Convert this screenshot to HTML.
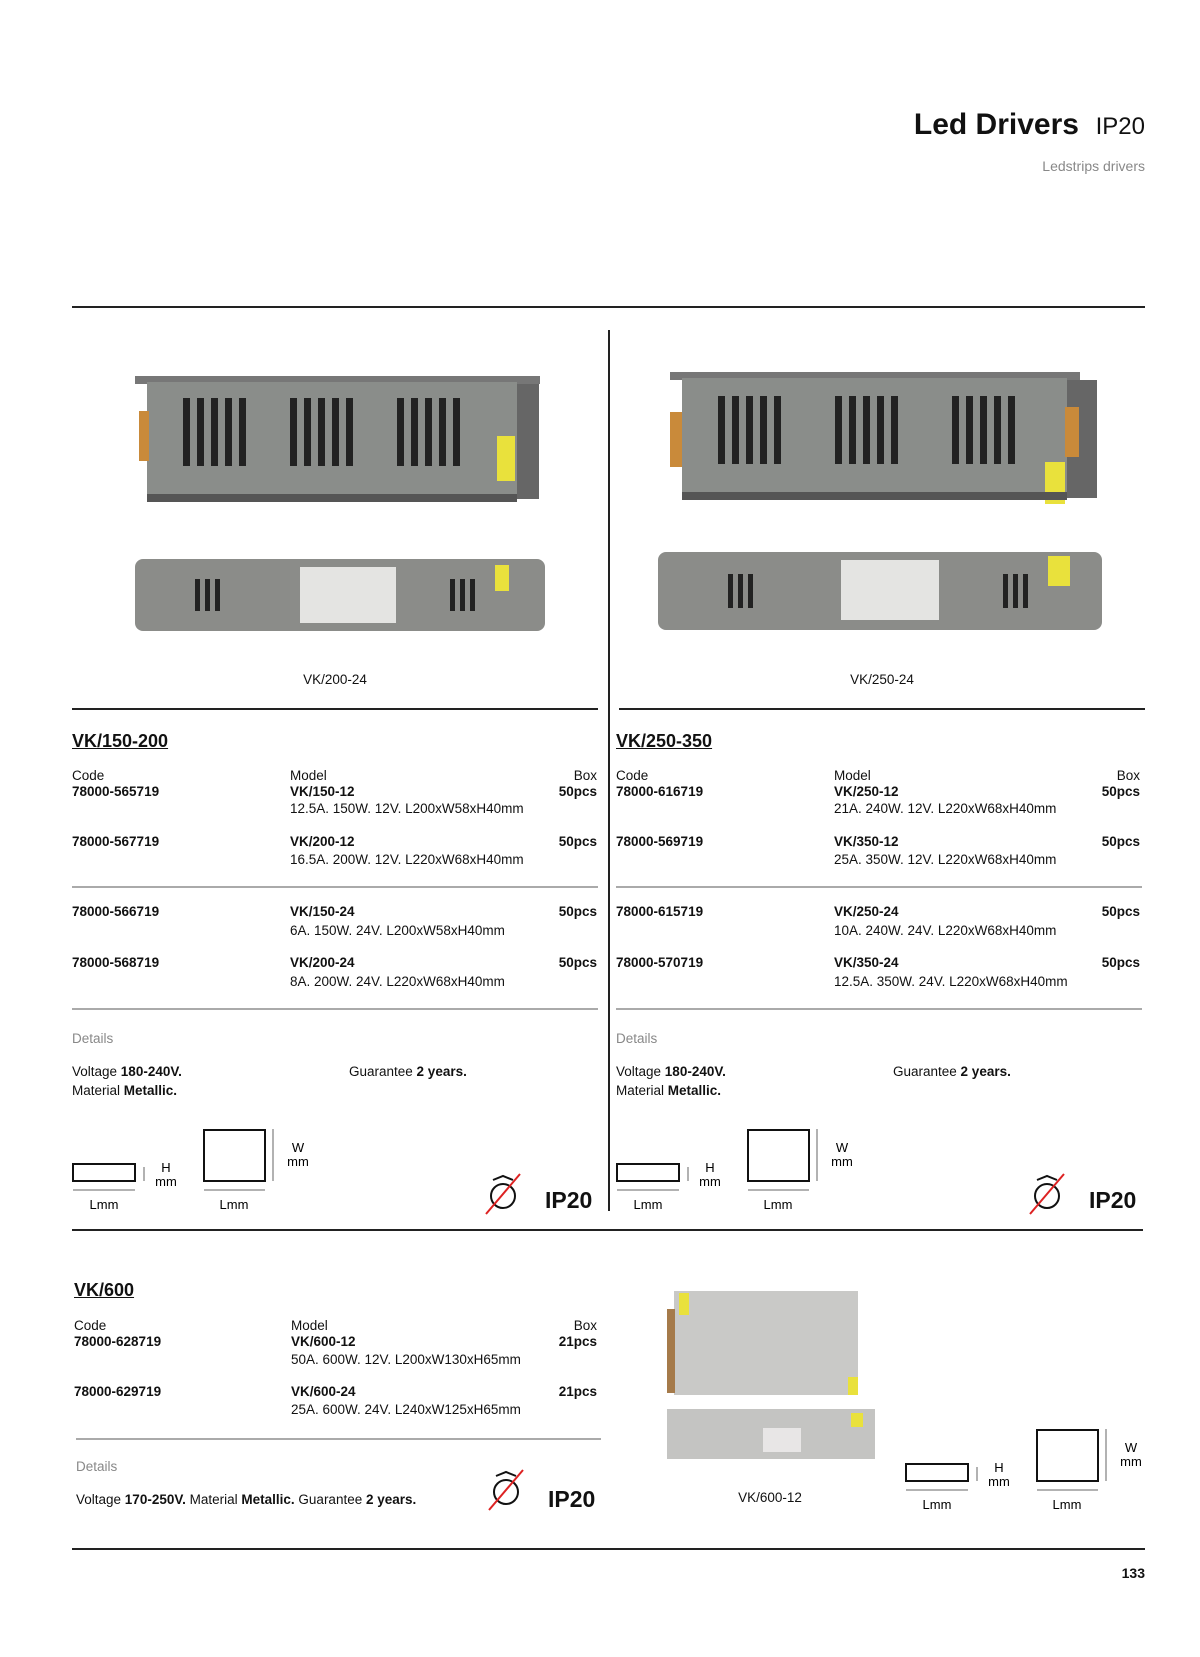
<!DOCTYPE html>
<html><head><meta charset="utf-8">
<style>
body{margin:0;background:#fff;}
#p{position:relative;width:1200px;height:1657px;overflow:hidden;font-family:"Liberation Sans",sans-serif;color:#111;}
.t{position:absolute;white-space:nowrap;font-size:13.5px;line-height:16px;}
.b{font-weight:bold;}
.r{text-align:right;}
.g{color:#888;}
.hl{position:absolute;height:2px;background:#222;}
.gl{position:absolute;height:2px;background:#aaa;}
.h{position:absolute;font-size:18px;font-weight:bold;text-decoration:underline;line-height:20px;}
.ip{position:absolute;font-size:23px;font-weight:bold;line-height:24px;}
svg{position:absolute;}
</style></head><body><div id="p">

<div class="t" style="right:55px;top:108px;font-size:30px;line-height:34px;"><b>Led Drivers</b>&nbsp; <span style="font-size:24px">IP20</span></div>
<div class="t g" style="right:55px;top:158px;font-size:14px;">Ledstrips drivers</div>
<div class="hl" style="left:72px;top:306px;width:1073px;"></div>
<div style="position:absolute;left:608px;top:330px;width:2px;height:881px;background:#222"></div>

<!-- left driver top -->
<svg style="left:135px;top:376px" width="410" height="130" viewBox="0 0 410 130">
<rect x="0" y="0" width="405" height="8" fill="#777"/>
<rect x="12" y="6" width="370" height="118" fill="#8a8d8a"/>
<rect x="382" y="8" width="22" height="115" fill="#666"/>
<rect x="4" y="35" width="10" height="50" fill="#c98a3a"/>
<rect x="362" y="60" width="18" height="45" fill="#e9e13c"/>
<g fill="#222"><rect x="48" y="22" width="7" height="68"/><rect x="62" y="22" width="7" height="68"/><rect x="76" y="22" width="7" height="68"/><rect x="90" y="22" width="7" height="68"/><rect x="104" y="22" width="7" height="68"/>
<rect x="155" y="22" width="7" height="68"/><rect x="169" y="22" width="7" height="68"/><rect x="183" y="22" width="7" height="68"/><rect x="197" y="22" width="7" height="68"/><rect x="211" y="22" width="7" height="68"/>
<rect x="262" y="22" width="7" height="68"/><rect x="276" y="22" width="7" height="68"/><rect x="290" y="22" width="7" height="68"/><rect x="304" y="22" width="7" height="68"/><rect x="318" y="22" width="7" height="68"/></g>
<rect x="12" y="118" width="370" height="8" fill="#555"/>
</svg>
<svg style="left:135px;top:559px" width="412" height="75" viewBox="0 0 412 75">
<rect x="0" y="0" width="410" height="72" rx="8" fill="#8b8c89"/>
<rect x="165" y="8" width="96" height="56" fill="#e4e4e2"/>
<g fill="#222"><rect x="60" y="20" width="5" height="32"/><rect x="70" y="20" width="5" height="32"/><rect x="80" y="20" width="5" height="32"/>
<rect x="315" y="20" width="5" height="32"/><rect x="325" y="20" width="5" height="32"/><rect x="335" y="20" width="5" height="32"/></g>
<rect x="360" y="6" width="14" height="26" fill="#e9e13c"/>
</svg>
<div class="t b" style="left:235px;width:200px;text-align:center;top:672px;font-weight:normal">VK/200-24</div>

<!-- right driver top -->
<svg style="left:670px;top:372px" width="430" height="134" viewBox="0 0 430 134">
<rect x="0" y="0" width="410" height="8" fill="#777"/>
<rect x="12" y="6" width="385" height="120" fill="#8a8d8a"/>
<rect x="397" y="8" width="30" height="118" fill="#666"/>
<rect x="0" y="40" width="12" height="55" fill="#c98a3a"/>
<rect x="395" y="35" width="14" height="50" fill="#c98a3a"/>
<rect x="375" y="90" width="20" height="42" fill="#e9e13c"/>
<g fill="#222"><rect x="48" y="24" width="7" height="68"/><rect x="62" y="24" width="7" height="68"/><rect x="76" y="24" width="7" height="68"/><rect x="90" y="24" width="7" height="68"/><rect x="104" y="24" width="7" height="68"/>
<rect x="165" y="24" width="7" height="68"/><rect x="179" y="24" width="7" height="68"/><rect x="193" y="24" width="7" height="68"/><rect x="207" y="24" width="7" height="68"/><rect x="221" y="24" width="7" height="68"/>
<rect x="282" y="24" width="7" height="68"/><rect x="296" y="24" width="7" height="68"/><rect x="310" y="24" width="7" height="68"/><rect x="324" y="24" width="7" height="68"/><rect x="338" y="24" width="7" height="68"/></g>
<rect x="12" y="120" width="385" height="8" fill="#555"/>
</svg>
<svg style="left:658px;top:552px" width="446" height="80" viewBox="0 0 446 80">
<rect x="0" y="0" width="444" height="78" rx="8" fill="#8b8c89"/>
<rect x="183" y="8" width="98" height="60" fill="#e4e4e2"/>
<g fill="#222"><rect x="70" y="22" width="5" height="34"/><rect x="80" y="22" width="5" height="34"/><rect x="90" y="22" width="5" height="34"/>
<rect x="345" y="22" width="5" height="34"/><rect x="355" y="22" width="5" height="34"/><rect x="365" y="22" width="5" height="34"/></g>
<rect x="390" y="4" width="22" height="30" fill="#e9e13c"/>
</svg>
<div class="t" style="left:782px;width:200px;text-align:center;top:672px">VK/250-24</div>

<div class="hl" style="left:72px;top:708px;width:526px;"></div>
<div class="hl" style="left:619px;top:708px;width:526px;"></div>

<!-- LEFT TABLE -->
<div class="h" style="left:72px;top:731px">VK/150-200</div>
<div class="t" style="left:72px;top:768px">Code</div>
<div class="t" style="left:290px;top:768px">Model</div>
<div class="t r" style="right:603px;top:768px">Box</div>
<div class="t b" style="left:72px;top:784px">78000-565719</div>
<div class="t b" style="left:290px;top:784px">VK/150-12</div>
<div class="t b r" style="right:603px;top:784px">50pcs</div>
<div class="t" style="left:290px;top:801px">12.5A. 150W. 12V. L200xW58xH40mm</div>
<div class="t b" style="left:72px;top:834px">78000-567719</div>
<div class="t b" style="left:290px;top:834px">VK/200-12</div>
<div class="t b r" style="right:603px;top:834px">50pcs</div>
<div class="t" style="left:290px;top:852px">16.5A. 200W. 12V. L220xW68xH40mm</div>
<div class="gl" style="left:72px;top:886px;width:526px;"></div>
<div class="t b" style="left:72px;top:904px">78000-566719</div>
<div class="t b" style="left:290px;top:904px">VK/150-24</div>
<div class="t b r" style="right:603px;top:904px">50pcs</div>
<div class="t" style="left:290px;top:923px">6A. 150W. 24V. L200xW58xH40mm</div>
<div class="t b" style="left:72px;top:955px">78000-568719</div>
<div class="t b" style="left:290px;top:955px">VK/200-24</div>
<div class="t b r" style="right:603px;top:955px">50pcs</div>
<div class="t" style="left:290px;top:974px">8A. 200W. 24V. L220xW68xH40mm</div>
<div class="gl" style="left:72px;top:1008px;width:526px;"></div>
<div class="t g" style="left:72px;top:1031px">Details</div>
<div class="t" style="left:72px;top:1064px">Voltage <b>180-240V.</b></div>
<div class="t" style="left:72px;top:1083px">Material <b>Metallic.</b></div>
<div class="t" style="left:349px;top:1064px">Guarantee <b>2 years.</b></div>

<!-- RIGHT TABLE -->
<div class="h" style="left:616px;top:731px">VK/250-350</div>
<div class="t" style="left:616px;top:768px">Code</div>
<div class="t" style="left:834px;top:768px">Model</div>
<div class="t r" style="right:60px;top:768px">Box</div>
<div class="t b" style="left:616px;top:784px">78000-616719</div>
<div class="t b" style="left:834px;top:784px">VK/250-12</div>
<div class="t b r" style="right:60px;top:784px">50pcs</div>
<div class="t" style="left:834px;top:801px">21A. 240W. 12V. L220xW68xH40mm</div>
<div class="t b" style="left:616px;top:834px">78000-569719</div>
<div class="t b" style="left:834px;top:834px">VK/350-12</div>
<div class="t b r" style="right:60px;top:834px">50pcs</div>
<div class="t" style="left:834px;top:852px">25A. 350W. 12V. L220xW68xH40mm</div>
<div class="gl" style="left:616px;top:886px;width:526px;"></div>
<div class="t b" style="left:616px;top:904px">78000-615719</div>
<div class="t b" style="left:834px;top:904px">VK/250-24</div>
<div class="t b r" style="right:60px;top:904px">50pcs</div>
<div class="t" style="left:834px;top:923px">10A. 240W. 24V. L220xW68xH40mm</div>
<div class="t b" style="left:616px;top:955px">78000-570719</div>
<div class="t b" style="left:834px;top:955px">VK/350-24</div>
<div class="t b r" style="right:60px;top:955px">50pcs</div>
<div class="t" style="left:834px;top:974px">12.5A. 350W. 24V. L220xW68xH40mm</div>
<div class="gl" style="left:616px;top:1008px;width:526px;"></div>
<div class="t g" style="left:616px;top:1031px">Details</div>
<div class="t" style="left:616px;top:1064px">Voltage <b>180-240V.</b></div>
<div class="t" style="left:616px;top:1083px">Material <b>Metallic.</b></div>
<div class="t" style="left:893px;top:1064px">Guarantee <b>2 years.</b></div>

<!-- dimension icons + clock, left -->
<svg style="left:70px;top:1126px" width="560" height="90">
<g fill="none" stroke="#111" stroke-width="2"><rect x="3" y="38" width="62" height="17"/><rect x="134" y="4" width="61" height="51"/></g>
<g stroke="#666" stroke-width="1"><line x1="3" y1="64" x2="65" y2="64"/><line x1="134" y1="64" x2="195" y2="64"/><line x1="74" y1="41" x2="74" y2="55"/><line x1="203" y1="3" x2="203" y2="55"/></g>
<text x="34" y="83" font-family="Liberation Sans" font-size="13" text-anchor="middle">Lmm</text>
<text x="164" y="83" font-family="Liberation Sans" font-size="13" text-anchor="middle">Lmm</text>
<text x="96" y="46" font-family="Liberation Sans" font-size="13" text-anchor="middle">H</text>
<text x="96" y="60" font-family="Liberation Sans" font-size="13" text-anchor="middle">mm</text>
<text x="228" y="26" font-family="Liberation Sans" font-size="13" text-anchor="middle">W</text>
<text x="228" y="40" font-family="Liberation Sans" font-size="13" text-anchor="middle">mm</text>
<circle cx="433" cy="70" r="12" fill="none" stroke="#111" stroke-width="2"/>
<path d="M423 54 L433 50 L443 54" fill="none" stroke="#111" stroke-width="2"/>
<line x1="416" y1="88" x2="450" y2="48" stroke="#d22" stroke-width="2"/>
</svg>
<div class="ip" style="left:545px;top:1188px">IP20</div>

<svg style="left:614px;top:1126px" width="560" height="90">
<g fill="none" stroke="#111" stroke-width="2"><rect x="3" y="38" width="62" height="17"/><rect x="134" y="4" width="61" height="51"/></g>
<g stroke="#666" stroke-width="1"><line x1="3" y1="64" x2="65" y2="64"/><line x1="134" y1="64" x2="195" y2="64"/><line x1="74" y1="41" x2="74" y2="55"/><line x1="203" y1="3" x2="203" y2="55"/></g>
<text x="34" y="83" font-family="Liberation Sans" font-size="13" text-anchor="middle">Lmm</text>
<text x="164" y="83" font-family="Liberation Sans" font-size="13" text-anchor="middle">Lmm</text>
<text x="96" y="46" font-family="Liberation Sans" font-size="13" text-anchor="middle">H</text>
<text x="96" y="60" font-family="Liberation Sans" font-size="13" text-anchor="middle">mm</text>
<text x="228" y="26" font-family="Liberation Sans" font-size="13" text-anchor="middle">W</text>
<text x="228" y="40" font-family="Liberation Sans" font-size="13" text-anchor="middle">mm</text>
<circle cx="433" cy="70" r="12" fill="none" stroke="#111" stroke-width="2"/>
<path d="M423 54 L433 50 L443 54" fill="none" stroke="#111" stroke-width="2"/>
<line x1="416" y1="88" x2="450" y2="48" stroke="#d22" stroke-width="2"/>
</svg>
<div class="ip" style="left:1089px;top:1188px">IP20</div>

<div class="hl" style="left:72px;top:1229px;width:1071px;"></div>

<!-- VK/600 -->
<div class="h" style="left:74px;top:1280px">VK/600</div>
<div class="t" style="left:74px;top:1318px">Code</div>
<div class="t" style="left:291px;top:1318px">Model</div>
<div class="t r" style="right:603px;top:1318px">Box</div>
<div class="t b" style="left:74px;top:1334px">78000-628719</div>
<div class="t b" style="left:291px;top:1334px">VK/600-12</div>
<div class="t b r" style="right:603px;top:1334px">21pcs</div>
<div class="t" style="left:291px;top:1352px">50A. 600W. 12V. L200xW130xH65mm</div>
<div class="t b" style="left:74px;top:1384px">78000-629719</div>
<div class="t b" style="left:291px;top:1384px">VK/600-24</div>
<div class="t b r" style="right:603px;top:1384px">21pcs</div>
<div class="t" style="left:291px;top:1402px">25A. 600W. 24V. L240xW125xH65mm</div>
<div class="gl" style="left:76px;top:1438px;width:525px;"></div>
<div class="t g" style="left:76px;top:1459px">Details</div>
<div class="t" style="left:76px;top:1492px">Voltage <b>170-250V.</b> Material <b>Metallic.</b> Guarantee <b>2 years.</b></div>
<svg style="left:480px;top:1465px" width="60" height="50">
<circle cx="26" cy="27" r="12" fill="none" stroke="#111" stroke-width="2"/>
<path d="M16 11 L26 7 L36 11" fill="none" stroke="#111" stroke-width="2"/>
<line x1="9" y1="45" x2="43" y2="5" stroke="#d22" stroke-width="2"/>
</svg>
<div class="ip" style="left:548px;top:1487px">IP20</div>

<svg style="left:665px;top:1289px" width="215" height="175">
<rect x="9" y="2" width="184" height="104" fill="#c9c9c7"/>
<rect x="2" y="20" width="8" height="84" fill="#a57a4a"/>
<rect x="14" y="4" width="10" height="22" fill="#e9e13c"/>
<rect x="183" y="88" width="10" height="18" fill="#e9e13c"/>
<rect x="2" y="120" width="208" height="50" fill="#c4c4c2"/>
<rect x="98" y="139" width="38" height="24" fill="#e8e6e6"/>
<rect x="186" y="124" width="12" height="14" fill="#e9e13c"/>
</svg>
<div class="t" style="left:690px;width:160px;text-align:center;top:1490px">VK/600-12</div>

<svg style="left:903px;top:1426px" width="240" height="90">
<g fill="none" stroke="#111" stroke-width="2"><rect x="3" y="38" width="62" height="17"/><rect x="134" y="4" width="61" height="51"/></g>
<g stroke="#666" stroke-width="1"><line x1="3" y1="64" x2="65" y2="64"/><line x1="134" y1="64" x2="195" y2="64"/><line x1="74" y1="41" x2="74" y2="55"/><line x1="203" y1="3" x2="203" y2="55"/></g>
<text x="34" y="83" font-family="Liberation Sans" font-size="13" text-anchor="middle">Lmm</text>
<text x="164" y="83" font-family="Liberation Sans" font-size="13" text-anchor="middle">Lmm</text>
<text x="96" y="46" font-family="Liberation Sans" font-size="13" text-anchor="middle">H</text>
<text x="96" y="60" font-family="Liberation Sans" font-size="13" text-anchor="middle">mm</text>
<text x="228" y="26" font-family="Liberation Sans" font-size="13" text-anchor="middle">W</text>
<text x="228" y="40" font-family="Liberation Sans" font-size="13" text-anchor="middle">mm</text>
</svg>

<div class="hl" style="left:72px;top:1548px;width:1073px;"></div>
<div class="t b r" style="right:55px;top:1565px;font-size:14px">133</div>

</div></body></html>
